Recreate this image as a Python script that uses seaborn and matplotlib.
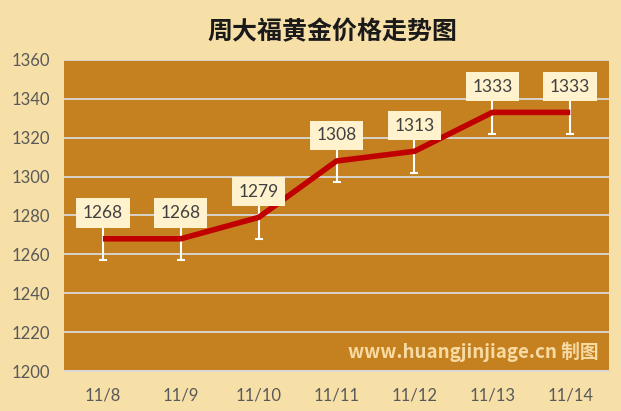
import numpy as np
import pandas as pd
import matplotlib
matplotlib.use("Agg")
import matplotlib.pyplot as plt
import seaborn as sns

# chart data
dates = ["11/8", "11/9", "11/10", "11/11", "11/12", "11/13", "11/14"]
prices = [1268, 1268, 1279, 1308, 1313, 1333, 1333]
err = [11, 11, 11, 11, 11, 11, 11]
yticks = [1200, 1220, 1240, 1260, 1280, 1300, 1320, 1340, 1360]

title = "周大福黄金价格走势图"
watermark = "www.huangjinjiage.cn 制图"

FIG_BG = "#F7DFA8"
PLOT_BG = "#C5801F"
LINE = "#C00000"
LABEL_BG = "#FFF2CC"
GRID = "#D9D9D9"
TEXT = "#595959"
NUM_FONT = ["Lato", "DejaVu Sans"]

sns.set_style("white")
plt.rcParams["font.family"] = ["Noto Sans CJK SC", "DejaVu Sans"]

df = pd.DataFrame({"date": dates, "price": prices, "err": err})
df["pos"] = np.arange(len(df))

fig = plt.figure(figsize=(6.21, 4.11), dpi=100, facecolor=FIG_BG)
ax = fig.add_axes([0.103, 0.0973, 0.878, 0.757])
ax.set_facecolor(PLOT_BG)

for y in yticks:
    ax.axhline(y, color=GRID, lw=1.3, zorder=1)

ax.errorbar(df["pos"], df["price"], yerr=df["err"], fmt="none",
            ecolor="white", elinewidth=1.5, capsize=2.6, capthick=1.5, zorder=2)
sns.lineplot(data=df, x="pos", y="price", color=LINE, lw=4, ax=ax,
             zorder=3, solid_capstyle="butt")

for x, y in zip(df["pos"], df["price"]):
    ax.annotate(str(y), (x, y), xytext=(0, 18.5), textcoords="offset points",
                ha="center", va="center", fontsize=12.5, color="#404040",
                family=NUM_FONT,
                bbox=dict(boxstyle="square,pad=0.38", fc=LABEL_BG, ec="none"),
                zorder=4)

ax.set_xlim(-0.5, len(dates) - 0.5)
ax.set_ylim(1200, 1360)
ax.set_yticks(yticks)
ax.set_yticklabels([str(v) for v in yticks], fontsize=12, color=TEXT, family=NUM_FONT)
ax.set_xticks(df["pos"])
ax.set_xticklabels(dates, fontsize=12, color=TEXT, family=NUM_FONT)
ax.set_xticks(np.arange(-0.5, len(dates)), minor=True)
ax.tick_params(axis="x", which="major", length=0, pad=12)
ax.tick_params(axis="x", which="minor", length=4, color=GRID, width=1.3)
ax.tick_params(axis="y", length=0, pad=10)
ax.set_xlabel("")
ax.set_ylabel("")
for side in ["top", "right", "left"]:
    ax.spines[side].set_visible(False)
ax.spines["bottom"].set_color(GRID)
ax.spines["bottom"].set_linewidth(1.3)

ax.text(0.98, 0.06, watermark, transform=ax.transAxes, ha="right", va="center",
        fontsize=13.5, fontweight="bold", color="#F7DBA3", zorder=5)

fig.text(0.535, 0.922, title, ha="center", va="center", fontsize=18,
         fontweight="bold", color="#1A1A1A")

fig.savefig("out.png", dpi=100, facecolor=FIG_BG)
